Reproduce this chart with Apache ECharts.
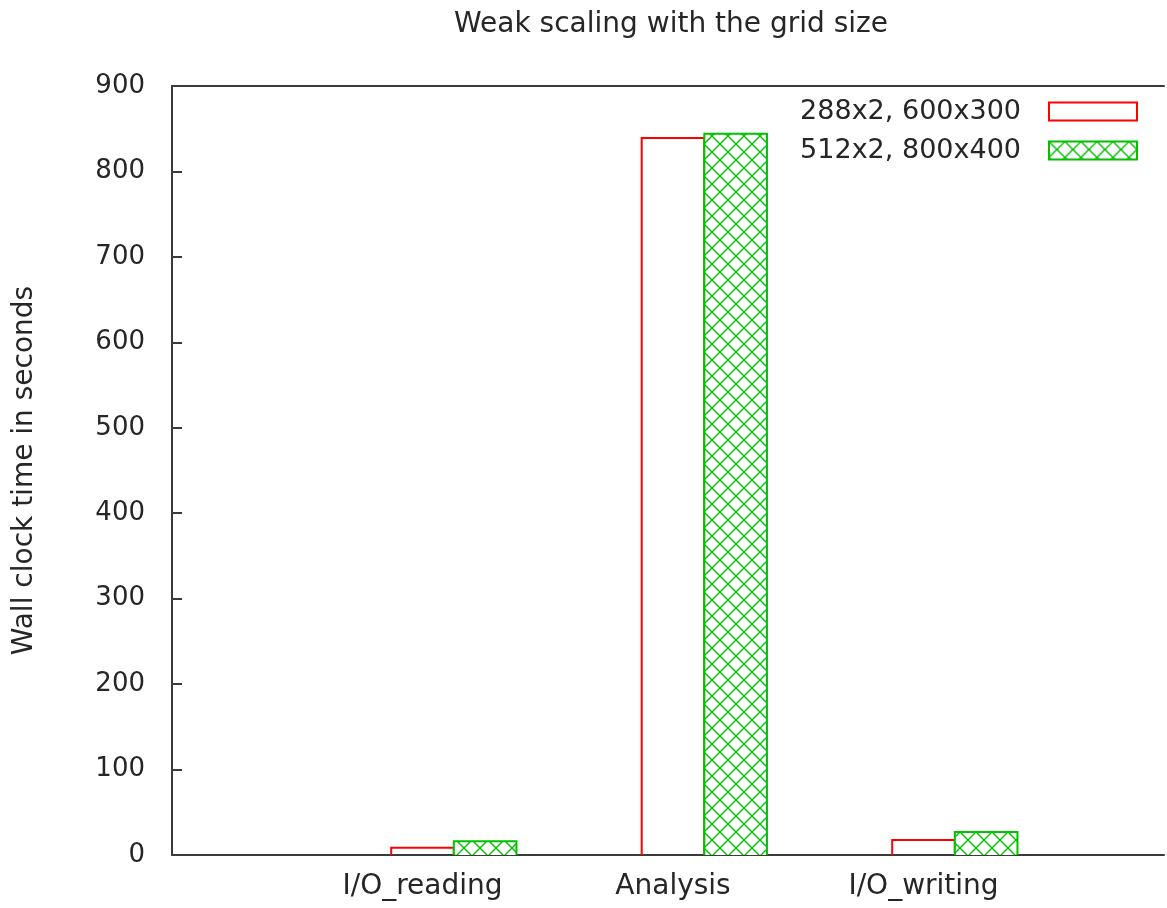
<!DOCTYPE html>
<html>
<head>
<meta charset="utf-8">
<title>Weak scaling with the grid size</title>
<script src="https://cdn.jsdelivr.net/npm/echarts@6/dist/echarts.min.js"></script>
<style>
  html, body { margin: 0; padding: 0; background: #ffffff; }
  #chart { width: 1167px; height: 908px; }
</style>
</head>
<body>
<div id="chart"></div>
<script>
// Phases of the run and wall clock time (s) for each configuration
const categories = ['I/O_reading', 'Analysis', 'I/O_writing'];
const seriesNames = ['288x2, 600x300', '512x2, 800x400'];
const timesSmall = [8.5, 839, 17.5];
const timesLarge = [16, 844, 27];
const yTicks = { min: 0, max: 900, interval: 100 };

const RED = '#ff0000';
const GREEN = '#00c000';
const FONT = 'DejaVu Sans';
const TEXT = '#262626';
const AXIS = '#3a3a3a';

// Cross-hatch fill used by the second configuration
function hatchPattern() {
  const c = document.createElement('canvas');
  const s = 16;
  c.width = s; c.height = s;
  const g = c.getContext('2d');
  g.fillStyle = '#ffffff';
  g.fillRect(0, 0, s, s);
  g.strokeStyle = GREEN;
  g.lineWidth = 1.4;
  g.beginPath();
  g.moveTo(0, 0); g.lineTo(s, s);
  g.moveTo(s, 0); g.lineTo(0, s);
  g.stroke();
  return { image: c, repeat: 'repeat' };
}
const hatch = hatchPattern();

const boxWidth = 0.25;            // width of one box in x units
const clusterOffsets = [0, 0.25]; // box centre relative to its cluster tic
const xRange = { min: -1, max: 2.96 };

function makeRender(offset, stroke, fill) {
  return function (params, api) {
    const x = api.value(0) + offset;
    const v = api.value(1);
    const w = api.size([boxWidth, 0])[0];
    const top = api.coord([x, v]);
    const base = api.coord([x, 0]);
    const x0 = top[0] - w / 2, x1 = top[0] + w / 2;
    const children = [];
    if (fill) {
      children.push({
        type: 'rect',
        shape: { x: x0, y: top[1], width: w, height: base[1] - top[1] },
        style: { fill: fill, stroke: null }
      });
    }
    children.push({
      type: 'polyline',
      shape: { points: [[x0, base[1]], [x0, top[1]], [x1, top[1]], [x1, base[1]]] },
      style: { fill: null, stroke: stroke, lineWidth: 2 }
    });
    return { type: 'group', children: children };
  };
}

const chart = echarts.init(document.getElementById('chart'), null, { renderer: 'canvas' });

chart.setOption({
  animation: false,
  backgroundColor: '#ffffff',
  title: {
    text: 'Weak scaling with the grid size',
    left: 666,
    textAlign: 'center',
    top: 6,
    textStyle: { fontFamily: FONT, fontSize: 28, fontWeight: 'normal', color: TEXT }
  },
  legend: {
    orient: 'vertical',
    right: 29,
    top: 98,
    padding: 0,
    align: 'right',
    itemWidth: 88,
    itemHeight: 18,
    itemGap: 12,
    selectedMode: false,
    textStyle: {
      fontFamily: FONT, fontSize: 27, color: TEXT,
      lineHeight: 27, padding: [0, 23, 0, 0]
    },
    data: [
      { name: seriesNames[0], icon: 'rect',
        itemStyle: { color: 'rgba(255,255,255,0)', borderColor: RED, borderWidth: 2 } },
      { name: seriesNames[1], icon: 'rect',
        itemStyle: { color: hatch, borderColor: GREEN, borderWidth: 2 } }
    ]
  },
  grid: {
    left: 172, top: 86, bottom: 53, right: 0,
    show: false
  },
  xAxis: [
    {
      type: 'value',
      min: xRange.min,
      max: xRange.max,
      interval: 1,
      splitLine: { show: false },
      axisLine: { show: true, onZero: false, lineStyle: { color: AXIS, width: 2 } },
      axisTick: { show: false },
      axisLabel: {
        margin: 18,
        fontFamily: FONT, fontSize: 28, color: TEXT,
        formatter: function (v) { return categories[v] !== undefined ? categories[v] : ''; }
      }
    },
    {
      // top edge of the frame
      type: 'value',
      position: 'top',
      min: xRange.min,
      max: xRange.max,
      splitLine: { show: false },
      axisLine: { show: true, onZero: false, lineStyle: { color: AXIS, width: 2 } },
      axisTick: { show: false },
      axisLabel: { show: false }
    }
  ],
  yAxis: {
    type: 'value',
    min: yTicks.min,
    max: yTicks.max,
    interval: yTicks.interval,
    name: 'Wall clock time in seconds',
    nameLocation: 'middle',
    nameGap: 133,
    nameTextStyle: { fontFamily: FONT, fontSize: 28, color: TEXT },
    splitLine: { show: false },
    axisLine: { show: true, onZero: false, lineStyle: { color: AXIS, width: 2 } },
    axisTick: { show: true, inside: true, length: 10, lineStyle: { color: AXIS, width: 2 } },
    axisLabel: { margin: 27, fontFamily: FONT, fontSize: 26, color: TEXT }
  },
  series: [
    {
      name: seriesNames[0],
      type: 'custom',
      renderItem: makeRender(clusterOffsets[0], RED, null),
      encode: { x: 0, y: 1 },
      data: timesSmall.map((v, i) => [i, v])
    },
    {
      name: seriesNames[1],
      type: 'custom',
      renderItem: makeRender(clusterOffsets[1], GREEN, hatch),
      encode: { x: 0, y: 1 },
      data: timesLarge.map((v, i) => [i, v])
    }
  ]
});
</script>
</body>
</html>
